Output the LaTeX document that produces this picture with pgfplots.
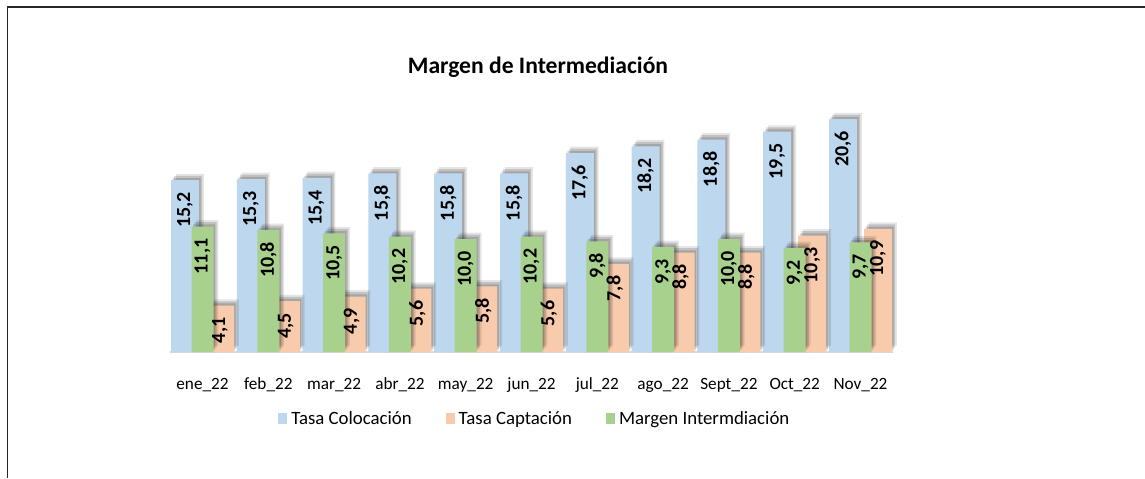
\documentclass[border=0pt]{standalone}
\usepackage{fontspec}
\setmainfont{Carlito}
\usepackage{pgfplots}
\pgfplotsset{compat=1.18}
\definecolor{cblue}{HTML}{BDD7EE}
\definecolor{corange}{HTML}{F8CBAD}
\definecolor{cgreen}{HTML}{A9D18E}
\pgfplotsset{sqlegend/.style={legend image code/.code={\fill[##1] (0pt,-2.4pt) rectangle (4.5pt,3.1pt);}}}
\tikzset{barshadow/.style={
  preaction={fill=black, opacity=0.10, transform canvas={xshift=2.4pt,yshift=3.2pt}},
  preaction={fill=black, opacity=0.15, transform canvas={xshift=1.6pt,yshift=2.2pt}},
  preaction={fill=black, opacity=0.15, transform canvas={xshift=0.8pt,yshift=1.1pt}}}}
\begin{document}
\begin{tikzpicture}
\useasboundingbox (0,0) rectangle (572.5pt,239pt);
\fill[white] (0,0) rectangle (572.5pt,239pt);
\draw[line width=0.7pt, black!85] (3.75pt,0) -- (3.75pt,235.5pt) -- (572.5pt,235.5pt);
\node[font=\bfseries\fontsize{11.8}{14}\selectfont, anchor=base] at (269pt,202.5pt) {Margen de Intermediación};
\begin{axis}[
  at={(84.8pt,63pt)}, anchor=south west,
  scale only axis, width=361.9pt, height=135.6pt,
  xmin=-0.5, xmax=10.5, ymin=0, ymax=24,
  ybar, clip=false,
  axis y line=none, axis x line*=bottom,
  x axis line style={draw=black!15, line width=1.2pt, -},
  xtick={0,...,10},
  xticklabels={ene\_22,feb\_22,mar\_22,abr\_22,may\_22,jun\_22,jul\_22,ago\_22,Sept\_22,Oct\_22,Nov\_22},
  major tick length=0pt, xtick style={draw=none},
  xticklabel style={font=\fontsize{8.6}{10}\selectfont, anchor=base, yshift=-18.5pt, text=black},
  nodes near coords,
  every node near coord/.append style={rotate=90, anchor=east, inner xsep=5.8pt, inner ysep=0pt, font=\bfseries\fontsize{10}{12}\selectfont, text=black},
  /pgf/number format/fixed, /pgf/number format/fixed zerofill,
  /pgf/number format/precision=1, /pgf/number format/use comma,
  /pgf/number format/assume math mode=true,
  legend style={at={(axis description cs:0.506,-0.247)}, anchor=center, draw=none, fill=none,
    font=\fontsize{9.4}{11}\selectfont, inner sep=0pt,
    nodes={text height=1.6ex, text depth=0.45ex},
    /tikz/every even column/.append style={column sep=15pt}},
  legend columns=-1,
]
\addlegendimage{sqlegend, fill=cblue, draw=none}
\addlegendentry{Tasa Colocación}
\addlegendimage{sqlegend, fill=corange, draw=none}
\addlegendentry{Tasa Captación}
\addlegendimage{sqlegend, fill=cgreen, draw=none}
\addlegendentry{Margen Intermdiación}
\addplot[fill=cblue, draw=none, barshadow, bar width=14pt, bar shift=-8.75pt, forget plot] coordinates {
 (0,15.2) (1,15.3) (2,15.4) (3,15.8) (4,15.8) (5,15.8) (6,17.6) (7,18.2) (8,18.8) (9,19.5) (10,20.6)};
\addplot[fill=corange, draw=none, barshadow, bar width=14pt, bar shift=8.75pt, forget plot] coordinates {
 (0,4.1) (1,4.5) (2,4.9) (3,5.6) (4,5.8) (5,5.6) (6,7.8) (7,8.8) (8,8.8) (9,10.3) (10,10.9)};
\addplot[fill=cgreen, draw=none, barshadow, bar width=11pt, bar shift=0pt, forget plot] coordinates {
 (0,11.1) (1,10.8) (2,10.5) (3,10.2) (4,10.0) (5,10.2) (6,9.8) (7,9.3) (8,10.0) (9,9.2) (10,9.7)};
\end{axis}
\end{tikzpicture}
\end{document}
